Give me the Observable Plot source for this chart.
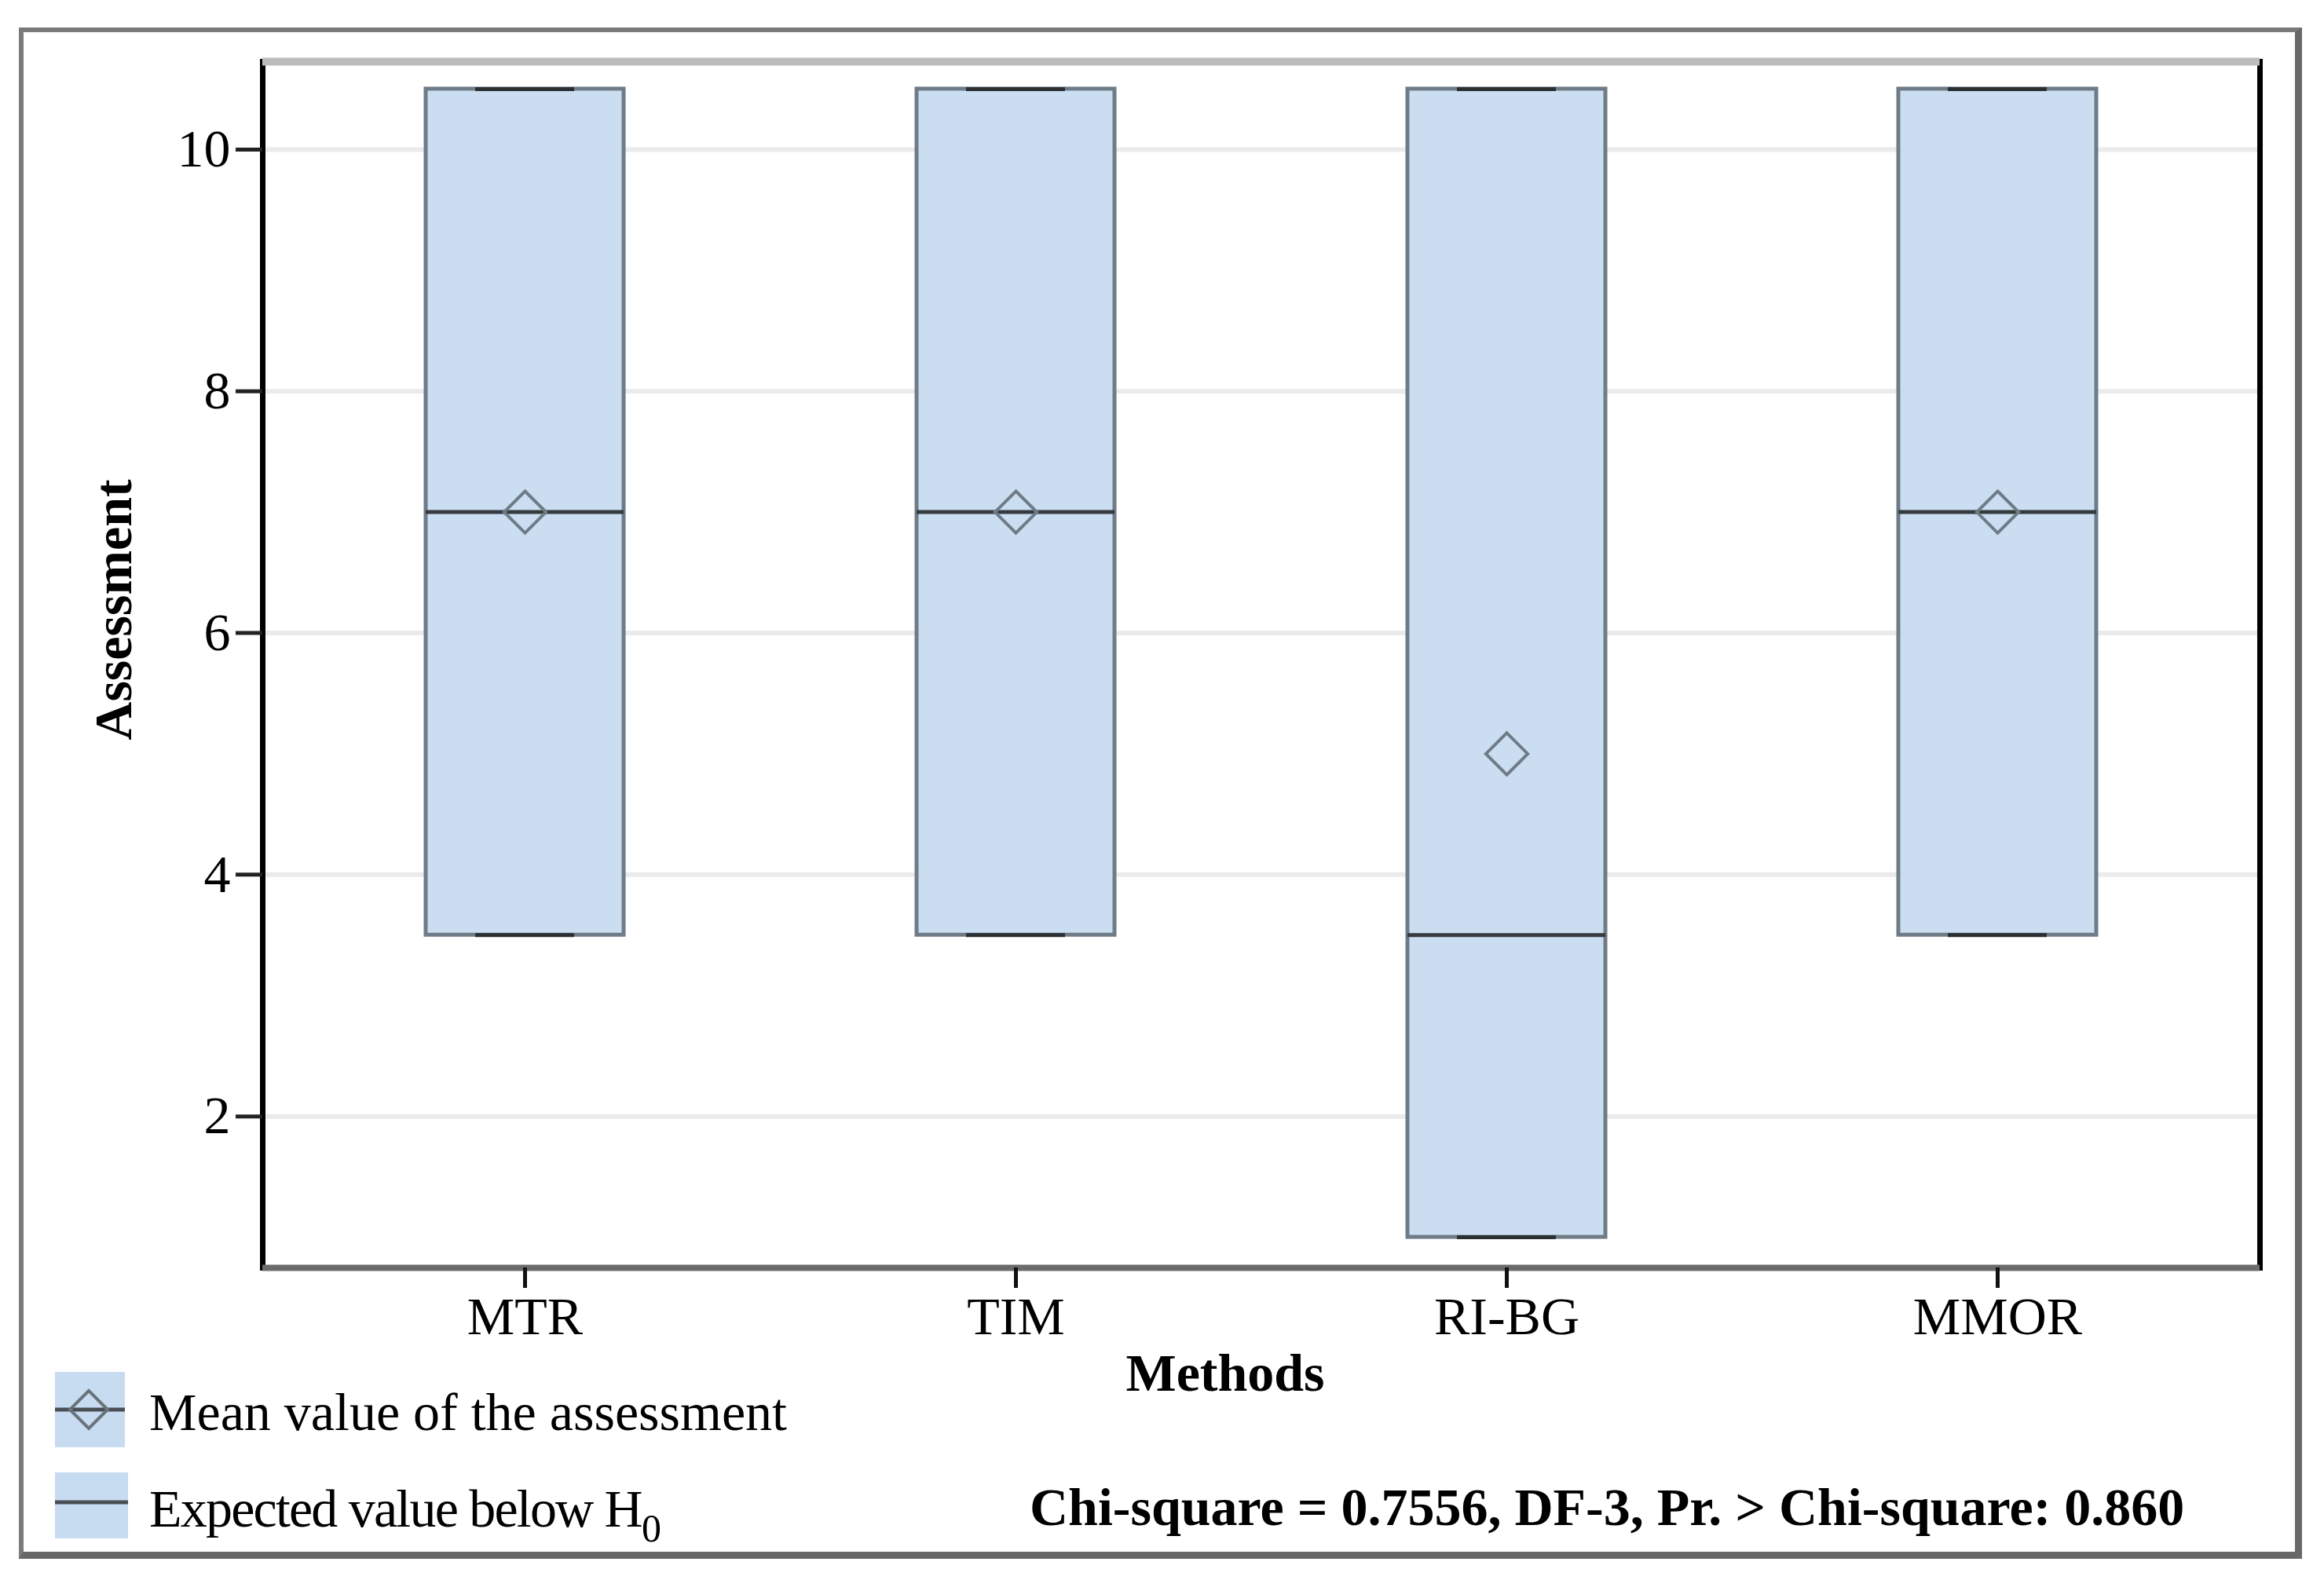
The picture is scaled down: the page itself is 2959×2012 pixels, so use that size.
<!DOCTYPE html>
<html>
<head>
<meta charset="utf-8">
<script src="https://cdn.jsdelivr.net/npm/d3@7"></script>
<script src="https://cdn.jsdelivr.net/npm/@observablehq/plot@0.6"></script>
<style>
  html, body { margin: 0; padding: 0; background: #fff; }
  #wrap { position: relative; width: 2959px; height: 2012px; overflow: hidden; font-family: "Liberation Serif", "Times New Roman", serif; }
  #frame { position: absolute; left: 24px; top: 35px; width: 2907px; height: 1950px; box-sizing: border-box;
           border-left: 6px solid #7a7a7a; border-top: 6px solid #7a7a7a; border-right: 9px solid #686868; border-bottom: 9px solid #686868; }
  #chart { position: absolute; left: 0; top: 0; }
  #legend { position: absolute; left: 0; top: 0; }
</style>
</head>
<body>
<div id="wrap">
  <div id="frame"></div>
  <div id="chart"></div>
  <div id="legend"></div>
</div>
<script>
// ---- data ----
const methods   = ["MTR", "TIM", "RI-BG", "MMOR"];
const minVals   = [3.5, 3.5, 1.0, 3.5];
const q1Vals    = [3.5, 3.5, 1.0, 3.5];
const medianVals= [7.0, 7.0, 3.5, 7.0];
const q3Vals    = [10.5, 10.5, 10.5, 10.5];
const maxVals   = [10.5, 10.5, 10.5, 10.5];
const meanVals  = [7.0, 7.0, 5.0, 7.0];
const yTicks    = [2, 4, 6, 8, 10];
const xTitle    = "Methods";
const yTitle    = "Assessment";
const legendLabels = ["Mean value of the assessment", "Expected value below H", "0"];
const statText  = "Chi-square = 0.7556, DF-3, Pr. > Chi-square: 0.860";

const rows = methods.map((m, i) => ({
  method: m, min: minVals[i], q1: q1Vals[i], median: medianVals[i],
  q3: q3Vals[i], max: maxVals[i], mean: meanVals[i]
}));

const yMin = 0.747, yMax = 10.727;
const FONT = "Liberation Serif, Times New Roman, serif";
const boxFill = "#c7dcf0";
const boxStroke = "#6f7b86";

const chart = Plot.plot({
  width: 2959,
  height: 1800,
  marginLeft: 334,
  marginRight: 82,
  marginTop: 78,
  marginBottom: 186,
  style: { fontFamily: FONT, fontSize: "68px", background: "transparent", color: "#000" },
  x: { domain: methods, paddingInner: 0.5974, paddingOuter: 0.33, label: null },
  y: { domain: [yMin, yMax], label: null },
  marks: [
    Plot.gridY(yTicks, { stroke: "#ebebeb", strokeOpacity: 1, strokeWidth: 6 }),
    Plot.barY(rows, { x: "method", y1: "q1", y2: "q3", fill: boxFill, fillOpacity: 0.93, stroke: boxStroke, strokeWidth: 5 }),
    Plot.tickY(rows, { x: "method", y: "median", stroke: "#363b40", strokeWidth: 5 }),
    Plot.tickY(rows, { x: "method", y: "max", stroke: "#2b2f33", strokeWidth: 5, insetLeft: 63, insetRight: 63 }),
    Plot.tickY(rows, { x: "method", y: "min", stroke: "#2b2f33", strokeWidth: 5, insetLeft: 63, insetRight: 63 }),
    Plot.dot(rows, { x: "method", y: "mean", symbol: "diamond2", r: 24, stroke: boxStroke, strokeWidth: 4, fill: "none" }),
    Plot.frame({ stroke: "#000", strokeWidth: 7 }),
    Plot.ruleY([yMax], { stroke: "#bcbcbc", strokeWidth: 10 }),
    Plot.ruleY([yMin], { stroke: "#6b6b6b", strokeWidth: 8 }),
    Plot.axisY({ ticks: yTicks, tickSize: 34, tickPadding: 7, fontSize: 68, stroke: "#222", strokeWidth: 5, tickFormat: d => String(d), label: null }),
    Plot.axisX({ tickSize: 26, tickPadding: 10, fontSize: 68, stroke: "#111", strokeWidth: 5, label: null }),
    Plot.text([yTitle], { text: d => d, frameAnchor: "left", rotate: -90, dx: -168, dy: -70, lineAnchor: "bottom", textAnchor: "middle", fontWeight: "bold", fontSize: 68 }),
    Plot.text([xTitle], { text: d => d, frameAnchor: "bottom", dx: -46, dy: 156, lineAnchor: "bottom", textAnchor: "middle", fontWeight: "bold", fontSize: 68 })
  ]
});
document.getElementById("chart").appendChild(chart);

// ---- legend and statistic (below the plot area, inside the outer frame) ----
const svg = d3.select("#legend").append("svg")
  .attr("width", 2959).attr("height", 2012)
  .style("font-family", FONT);

// swatch 1: mean marker
const s1 = svg.append("g").attr("transform", "translate(70,1747)");
s1.append("rect").attr("width", 89).attr("height", 96).attr("fill", boxFill);
s1.append("line").attr("x1", 0).attr("x2", 89).attr("y1", 48).attr("y2", 48).attr("stroke", "#4a4f55").attr("stroke-width", 5);
s1.append("path").attr("d", "M43,24 L67,48 L43,72 L19,48 Z").attr("fill", "none").attr("stroke", "#6a727a").attr("stroke-width", 4);

// swatch 2: expected value line
const s2 = svg.append("g").attr("transform", "translate(70,1875)");
s2.append("rect").attr("width", 93).attr("height", 84).attr("fill", boxFill);
s2.append("line").attr("x1", 0).attr("x2", 93).attr("y1", 38).attr("y2", 38).attr("stroke", "#4a4f55").attr("stroke-width", 5);

svg.append("text").attr("x", 190).attr("y", 1821).attr("font-size", 68).attr("fill", "#000").text(legendLabels[0]);
const t2 = svg.append("text").attr("x", 190).attr("y", 1944).attr("font-size", 68).attr("fill", "#000");
t2.append("tspan").attr("letter-spacing", "-1.8px").text(legendLabels[1]);
t2.append("tspan").attr("dy", 19).attr("font-size", 50).text(legendLabels[2]);

svg.append("text").attr("x", 1311).attr("y", 1942).attr("font-size", 68).attr("font-weight", "bold").attr("fill", "#000").text(statText);
</script>
</body>
</html>
